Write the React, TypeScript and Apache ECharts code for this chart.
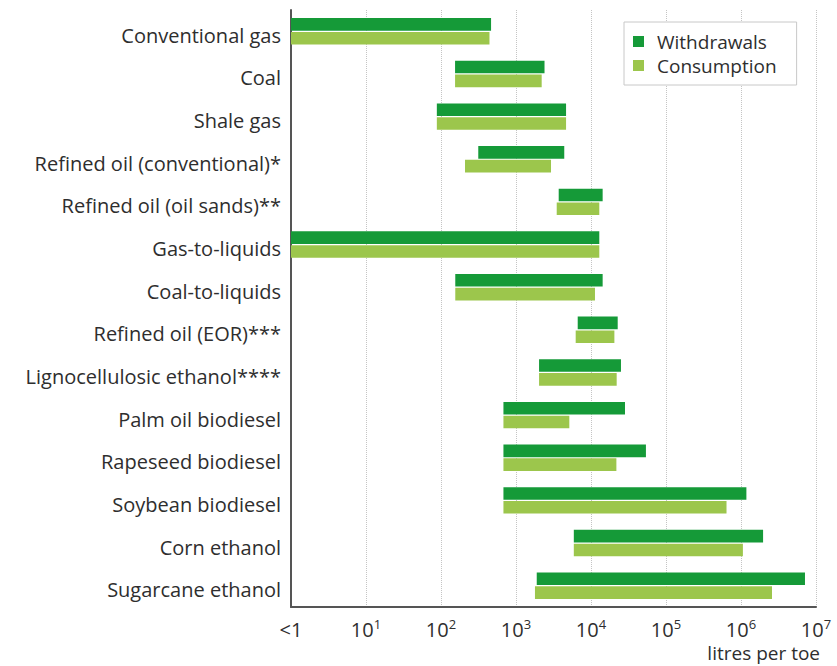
import React, { useEffect, useRef } from "react";
import * as echarts from "echarts";

const categories = [
  "Conventional gas",
  "Coal",
  "Shale gas",
  "Refined oil (conventional)*",
  "Refined oil (oil sands)**",
  "Gas-to-liquids",
  "Coal-to-liquids",
  "Refined oil (EOR)***",
  "Lignocellulosic ethanol****",
  "Palm oil biodiesel",
  "Rapeseed biodiesel",
  "Soybean biodiesel",
  "Corn ethanol",
  "Sugarcane ethanol",
];
const withdrawalsMin = [1, 154, 88, 314, 3710, 1, 155, 6650, 2030, 680, 680, 680, 5900, 1890];
const withdrawalsMax = [465, 2400, 4650, 4400, 14300, 12900, 14300, 22700, 25100, 28400, 54000, 1180000, 1970000, 7130000];
const consumptionMin = [1, 154, 88, 209, 3490, 1, 155, 6250, 2030, 680, 680, 680, 5900, 1790];
const consumptionMax = [443, 2200, 4650, 2930, 12900, 12900, 11300, 20500, 22000, 5140, 21800, 641000, 1060000, 2590000];
const seriesNames = ["Withdrawals", "Consumption"];
const axisMin = 1;
const axisMax = 10000000;
const axisTitle = "litres per toe";

const FONT = "Open Sans";
const TXT = "#2e2e2e";
const DARK = "#159a38";
const LIGHT = "#9cc64c";

function makeRender(color: string, side: number) {
  return (params: any, api: any) => {
    const cat = api.value(0);
    const s = api.value(1);
    const e = api.value(2);
    const p0 = api.coord([s, cat]);
    const p1 = api.coord([e, cat]);
    const band = api.size([0, 1])[1];
    const h = band * 0.295;
    const off = band * 0.162 * side;
    return {
      type: "rect",
      shape: { x: p0[0], y: p0[1] + off - h / 2, width: p1[0] - p0[0], height: h },
      style: { fill: color },
    };
  };
}

export default function App() {
  const ref = useRef<HTMLDivElement>(null);
  useEffect(() => {
    document.body.style.margin = "0";
    const chart = echarts.init(ref.current!, null, { renderer: "svg" });
    const wData = categories.map((_, i) => [i, withdrawalsMin[i], withdrawalsMax[i]]);
    const cData = categories.map((_, i) => [i, consumptionMin[i], consumptionMax[i]]);
    chart.setOption({
      animation: false,
      textStyle: { fontFamily: FONT },
      grid: { left: 291, right: 21, top: 10, bottom: 59, containLabel: false, outerBoundsMode: "none" },
      legend: {
        left: 624,
        top: 22,
        orient: "vertical",
        data: [
          { name: seriesNames[0], icon: "rect", itemStyle: { color: DARK } },
          { name: seriesNames[1], icon: "rect", itemStyle: { color: LIGHT } },
        ],
        itemWidth: 11,
        itemHeight: 11,
        itemGap: 5,
        padding: [10, 20, 10, 9],
        backgroundColor: "#ffffff",
        borderColor: "#c8c8c8",
        borderWidth: 1,
        textStyle: { fontFamily: FONT, fontSize: 19, color: TXT, padding: [0, 0, 0, 8], lineHeight: 19 },
      },
      xAxis: {
        type: "log",
        logBase: 10,
        min: axisMin,
        max: axisMax,
        interval: 1,
        axisLine: { show: true, lineStyle: { color: "#555", width: 2 } },
        axisTick: { show: false },
        splitLine: { show: true, lineStyle: { type: "dotted", color: "#c4c4c4", width: 1 } },
        axisLabel: {
          margin: 12,
          formatter: (v: number) => {
            const n = Math.round(Math.log10(v));
            if (n === 0) return "{b|<1}";
            return "{b|10}{s|" + n + "}";
          },
          rich: {
            b: { fontFamily: FONT, fontSize: 20, color: TXT, verticalAlign: "bottom", lineHeight: 20 },
            s: { fontFamily: FONT, fontSize: 13, color: TXT, verticalAlign: "bottom", lineHeight: 12, padding: [0, 0, 9, 0] },
          },
        },
      },
      yAxis: {
        type: "category",
        data: categories,
        inverse: true,
        axisLine: { show: true, lineStyle: { color: "#555", width: 2 } },
        axisTick: { show: false },
        splitLine: { show: false },
        axisLabel: {
          margin: 10,
          formatter: (v: string) => "{a|" + v + "}",
          rich: { a: { fontFamily: FONT, fontSize: 20, color: TXT, padding: [8, 0, 0, 0] } },
        },
      },
      graphic: [
        {
          type: "text",
          right: 17,
          top: 643,
          style: { text: axisTitle, fontFamily: FONT, fontSize: 19, lineHeight: 20, fill: TXT },
        },
      ],
      series: [
        {
          name: seriesNames[0],
          type: "custom",
          itemStyle: { color: DARK },
          renderItem: makeRender(DARK, -1),
          encode: { x: [1, 2], y: 0 },
          data: wData,
          z: 3,
        },
        {
          name: seriesNames[1],
          type: "custom",
          itemStyle: { color: LIGHT },
          renderItem: makeRender(LIGHT, 1),
          encode: { x: [1, 2], y: 0 },
          data: cData,
          z: 3,
        },
      ],
    });
    return () => chart.dispose();
  }, []);
  return <div ref={ref} style={{ position: "absolute", left: 0, top: 0, width: 837, height: 666 }} />;
}
